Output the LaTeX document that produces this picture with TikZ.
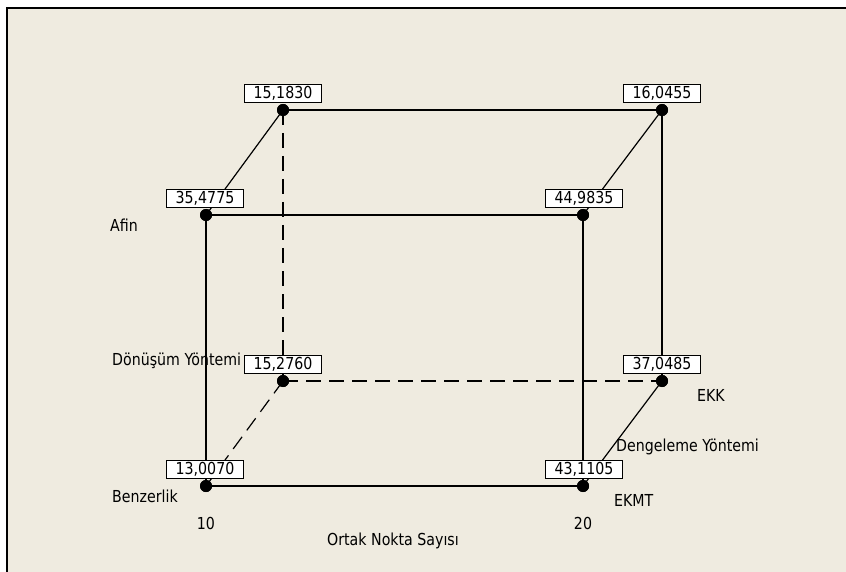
\documentclass[tikz,border=0pt]{standalone}
\usepackage{fontspec}
\setmainfont{DejaVu Sans}[FakeStretch=0.86]
\definecolor{panel}{RGB}{239,235,224}
\tikzset{
  edge/.style={line width=1.2pt, black},
  hidden/.style={edge, dash pattern=on 15pt off 8pt},
  dot/.style={circle, fill=black, inner sep=0pt, minimum size=12pt},
  valbox/.style={draw=black, line width=0.9pt, fill=white, inner sep=0pt,
    minimum width=77pt, minimum height=18pt},
  lbl/.style={inner sep=0pt, anchor=west},
  clbl/.style={inner sep=0pt}
}
\begin{document}
\begin{tikzpicture}[x=1pt, y=-1pt, font=\fontsize{16.5}{19}\selectfont]
\useasboundingbox (0,0) rectangle (846,572);
% panel background and frame
\fill[white] (0,0) rectangle (846,572);
\fill[panel] (7,8) rectangle (846,572);
\draw[line width=2pt] (7,572) -- (7,8) -- (846,8);

% cube corners
\node[dot] (tbl) at (283,110) {};
\node[dot] (tbr) at (662,110) {};
\node[dot] (tfl) at (206,215) {};
\node[dot] (tfr) at (583,215) {};
\node[dot] (bbl) at (283,381) {};
\node[dot] (bbr) at (662,381) {};
\node[dot] (bfl) at (206,486) {};
\node[dot] (bfr) at (583,486) {};

% visible edges
\draw[edge] (tbl.center) -- (tbr.center);
\draw[edge] (tfl.center) -- (tfr.center);
\draw[edge] (tfl.center) -- (tbl.center);
\draw[edge] (tfr.center) -- (tbr.center);
\draw[edge] (tfl.center) -- (bfl.center);
\draw[edge] (tfr.center) -- (bfr.center);
\draw[edge] (tbr.center) -- (bbr.center);
\draw[edge] (bfl.center) -- (bfr.center);
\draw[edge] (bfr.center) -- (bbr.center);
% hidden edges
\draw[hidden] (tbl.center) -- (bbl.center);
\draw[hidden] (bbl.center) -- (bbr.center);
\draw[hidden] (bfl.center) -- (bbl.center);

% redraw corners on top of the edges
\foreach \c in {tbl,tbr,tfl,tfr,bbl,bbr,bfl,bfr}
  \fill (\c) circle (6pt);

% values at the corners
\node[valbox] (vtbl) at (283,93) {15,1830};
\node[valbox] (vtbr) at (662,93) {16,0455};
\node[valbox] (vtfl) at (205,198) {35,4775};
\node[valbox] (vtfr) at (584,198) {44,9835};
\node[valbox] (vbbl) at (283,364) {15,2760};
\node[valbox] (vbbr) at (662,364) {37,0485};
\node[valbox] (vbfl) at (205,469.5) {13,0070};
\node[valbox] (vbfr) at (584,469.5) {43,1105};

% factor labels
\node[lbl] (afin) at (110,225) {Afin};
\node[lbl] (donusum) at (112,361) {Dönüşüm Yöntemi};
\node[lbl] (benzer) at (112,496) {Benzerlik};
\node[lbl] (ekk) at (697,395) {EKK};
\node[lbl] (dengeleme) at (616,447) {Dengeleme Yöntemi};
\node[lbl] (ekmt) at (614,500) {EKMT};
\node[clbl] (ten) at (206,523) {10};
\node[clbl] (twenty) at (583,523) {20};
\node[clbl] (ortak) at (393,541) {Ortak Nokta Sayısı};
\end{tikzpicture}
\end{document}
